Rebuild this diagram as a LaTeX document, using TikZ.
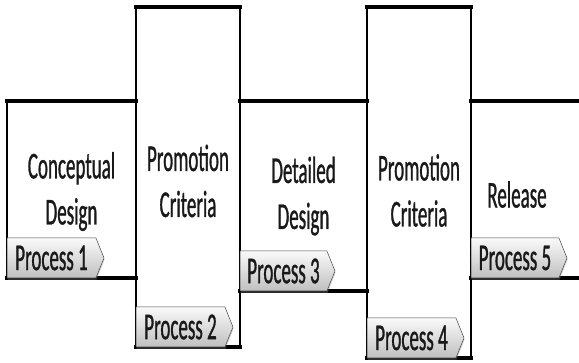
\documentclass[tikz,border=0pt]{standalone}
\usepackage{fontspec}
\setmainfont{Carlito}[FakeStretch=0.5, FakeBold=0.8]
\usepackage{tikz}
\usetikzlibrary{shapes.symbols,shadows,positioning}
\tikzstyle{stage} = [rectangle, draw=black, line width=1.2pt, inner sep=0pt, outer sep=0pt, anchor=north west]
\tikzstyle{edge} = [line width=3.5pt, line cap=rect]
\tikzstyle{tag} = [signal, signal to=east, signal pointer angle=136, draw=gray!55!black, line width=0.5pt, top color=gray!4, bottom color=gray!50, minimum width=97pt, minimum height=40pt, inner sep=1pt, outer sep=0pt, anchor=south west, text=black!90, drop shadow={shadow xshift=0.5pt, shadow yshift=-2pt, opacity=0.35}]
\tikzstyle{caption} = [align=center, text=black!90]

\begin{document}
\begin{tikzpicture}[x=1pt, y=1pt, font=\fontsize{38}{46}\selectfont]
		\useasboundingbox (0,0) rectangle (579,363);
		% the five stages
		\node [stage, minimum width=129pt, minimum height=177pt] (s1) at (7,262) {};
		\node [stage, minimum width=104pt, minimum height=340pt] (s2) at ([yshift=94pt]s1.north east) {};
		\node [stage, minimum width=127pt, minimum height=190pt] (s3) at (s2.east |- s1.north) {};
		\node [stage, minimum width=104pt, minimum height=351pt] (s4) at (s3.east |- s2.north) {};
		\node [stage, draw=none, minimum width=108pt, minimum height=177pt] (s5) at (s4.east |- s1.north) {};

		\foreach \s in {s1,s2,s3,s4,s5}
		{
			\draw [edge] (\s.north west) -- (\s.north east);
			\draw [edge] (\s.south west) -- (\s.south east);
		}

		% process tags
		\node [tag] (t1) at (s1.south west) {Process 1};
		\node [tag] (t2) at (s2.south west) {Process 2};
		\node [tag, minimum width=95pt] (t3) at (s3.south west) {Process 3};
		\node [tag] (t4) at (s4.south west) {Process 4};
		\node [tag, minimum width=96pt] (t5) at (s5.south west) {Process 5};

		\node [caption] (c1) at ([yshift=-2pt]s1.center) {Conceptual\\Design};
		\node [caption] (c2) at ([yshift=-4pt]s2.center) {Promotion\\Criteria};
		\node [caption] (c3) at (s3.center) {Detailed\\Design};
		\node [caption] (c4) at ([yshift=-8pt]s4.center) {Promotion\\Criteria};
		\node [caption] (c5) at ([xshift=-8pt, yshift=-5pt]s5.center) {Release};
\end{tikzpicture}
\end{document}
